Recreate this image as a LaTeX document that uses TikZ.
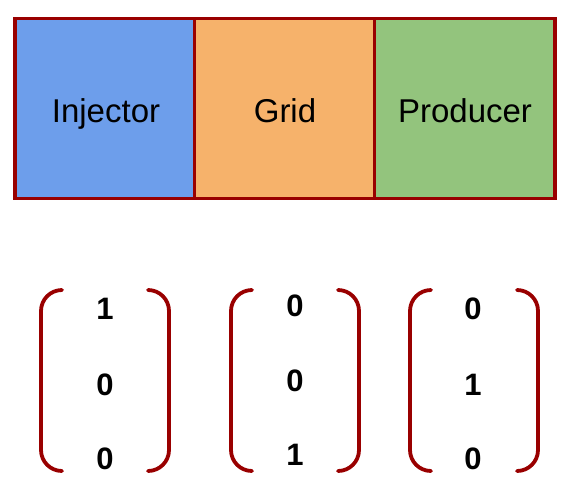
\documentclass[tikz,border=0pt]{standalone}
\usepackage{fontspec}
\setmainfont{Liberation Sans}
\definecolor{bord}{HTML}{990000}
\definecolor{cblue}{HTML}{6D9EEB}
\definecolor{corange}{HTML}{F6B26B}
\definecolor{cgreen}{HTML}{93C47D}
\tikzset{
  cell/.style={draw=bord, line width=3.2pt, minimum width=180.5pt, minimum height=180.5pt, inner sep=0pt},
  lab/.style={anchor=base, inner sep=0pt, font=\fontsize{33}{38}\selectfont, text=black},
  num/.style={anchor=base, inner sep=0pt, font=\fontsize{31}{36}\selectfont\bfseries},
  brk/.style={draw=bord, line width=3.8pt, rounded corners=21pt, line cap=round}
}
\begin{document}
\begin{tikzpicture}[x=1pt,y=-1pt]
\useasboundingbox (0,0) rectangle (578,499);
\node[cell, fill=cblue] (inj) at (105,108.5) {};
\node[cell, fill=corange] (grid) at (285,108.5) {};
\node[cell, fill=cgreen] (prod) at (465,108.5) {};
\draw[draw=bord, line width=3.2pt] (15,18.5) rectangle (555,198.5);
\node[lab] (injt) at (106,122) {Injector};
\node[lab] (gridt) at (285,122) {Grid};
\node[lab] (prodt) at (465,122) {Producer};
% vector 1
\node[num] (a1) at (105,319) {1};
\node[num] (a2) at (105,395) {0};
\node[num] (a3) at (105,469) {0};
\draw[brk] (62,290) -- (41,290) -- (41,471) -- (62,471);
\draw[brk] (148,290) -- (169,290) -- (169,471) -- (148,471);
% vector 2
\node[num] (b1) at (295,316) {0};
\node[num] (b2) at (295,391) {0};
\node[num] (b3) at (295,465) {1};
\draw[brk] (252,290) -- (231,290) -- (231,471) -- (252,471);
\draw[brk] (338,290) -- (359,290) -- (359,471) -- (338,471);
% vector 3
\node[num] (c1) at (473,319) {0};
\node[num] (c2) at (473,395) {1};
\node[num] (c3) at (473,469) {0};
\draw[brk] (431,290) -- (410,290) -- (410,471) -- (431,471);
\draw[brk] (517,290) -- (538,290) -- (538,471) -- (517,471);
\end{tikzpicture}
\end{document}
